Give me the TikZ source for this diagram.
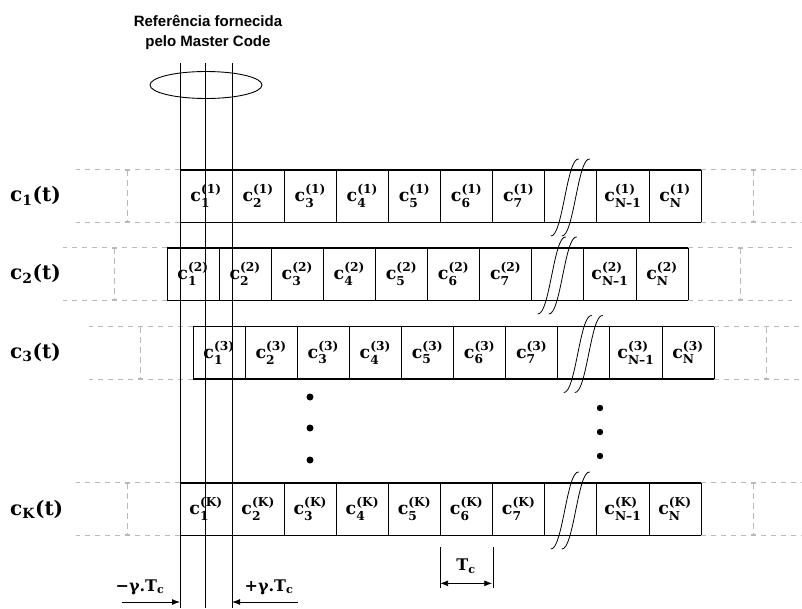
\documentclass[tikz,border=0pt]{standalone}
\usepackage{amsmath}
\usepackage{fontspec}
\setmainfont{DejaVu Serif}
\setsansfont{Liberation Sans}
\usetikzlibrary{positioning,arrows.meta}
\newcommand\chiplab[2]{$\textbf{c}^{\textbf{(#1)}}_{\textbf{#2}}$}

\begin{document}
\begin{tikzpicture}[x=1pt,y=-1pt,
  chip/.style={draw, line width=0.7pt, minimum width=52.1pt, minimum height=52pt, inner sep=0pt, font=\fontsize{17.5}{20}\selectfont},
  seqlabel/.style={anchor=west, inner sep=0pt, font=\fontsize{20}{22}\selectfont},
  ghost/.style={draw=gray!55, dash pattern=on 5pt off 5pt, line width=0.6pt},
  ghostbar/.style={draw=gray!55, dash pattern=on 6pt off 4pt, line width=0.6pt, {Bar[width=5pt]}-{Bar[width=5pt]}},
  breakmark/.style={line width=0.8pt},
  dimlabel/.style={inner sep=0pt, font=\fontsize{16}{18}\selectfont\bfseries},
  dimarrow/.style={line width=0.9pt, -{Latex[length=8pt,width=6pt]}}]
\useasboundingbox (0,0) rectangle (802,608);

\node[font=\sffamily\bfseries\fontsize{15}{20}\selectfont, align=center] (title) at (208,32) {Referência fornecida\\pelo Master Code};

\foreach \r/\xs/\yc in {1/180/196,2/167/274,3/193/352.5,K/180/509}{
  \node[seqlabel] (lab\r) at (10,\yc) {$\textbf{c}_{\textbf{\r}}$\textbf{(t)}};
  \foreach \i/\t in {1/1,2/2,3/3,4/4,5/5,6/6,7/7,9/N--1,10/N}
    \node[chip] (c\r-\i) at (\xs+52.1*\i-26.05,\yc) {\chiplab{\r}{\t}};
  \node[chip] (c\r-8) at (\xs+52.1*8-26.05,\yc) {};
  \draw[line width=1.3pt] (c\r-1.north west) -- (c\r-10.north east);
  \draw[line width=1.3pt] (c\r-1.south west) -- (c\r-10.south east);
  \draw[ghost] (c\r-1.north west) -- ++(-104,0);
  \draw[ghost] (c\r-1.south west) -- ++(-104,0);
  \draw[ghostbar] (c\r-1.north west) ++(-52,0) -- ++(0,52);
  \draw[ghost] (c\r-10.north east) -- ++(104,0);
  \draw[ghost] (c\r-10.south east) -- ++(104,0);
  \draw[ghostbar] (c\r-10.north east) ++(52,0) -- ++(0,52);
  \begin{scope}[shift={(c\r-8.center)}]
    \draw[breakmark] (-20,40) .. controls (-8,41) and (-4,-39) .. (8,-37);
    \draw[breakmark] (-9,40) .. controls (3,41) and (7,-39) .. (19,-37);
  \end{scope}
}

\fill (310,397) circle (3.5) (310,428) circle (3.5) (310,460) circle (3.5);
\fill (600,408) circle (3.2) (600,432) circle (3.2) (600,456) circle (3.2);

\coordinate (refc) at (206,85);
\coordinate (gm) at (180,608);
\coordinate (g0) at (205.5,608);
\coordinate (gp) at (232,608);
\draw[line width=0.9pt] (refc) ellipse [x radius=56, y radius=13.5];
\draw[line width=0.8pt] (180,63) -- (gm);
\draw[line width=0.8pt] (205.5,63) -- (g0);
\draw[line width=0.8pt] (232,63) -- (gp);

\node[dimlabel] (minus) at (140,587) {−γ.T\textsubscript{c}};
\node[dimlabel] (plus) at (269,587) {+γ.T\textsubscript{c}};
\coordinate (ma) at (122,602);
\coordinate (pa) at (298,602);
\draw[dimarrow] (ma) -- (gm |- ma);
\draw[dimarrow] (pa) -- (gp |- pa);

\draw[line width=0.8pt] (cK-6.south west) ++(0,12) -- ++(0,41);
\draw[line width=0.8pt] (cK-6.south east) ++(0,12) -- ++(0,41);
\draw[line width=0.9pt, {Latex[length=8pt,width=6pt]}-{Latex[length=8pt,width=6pt]}] (cK-6.south west) ++(0,48) -- ++(52.1,0);
\node[dimlabel] (tc) at (466,566) {T\textsubscript{c}};
\end{tikzpicture}
\end{document}
